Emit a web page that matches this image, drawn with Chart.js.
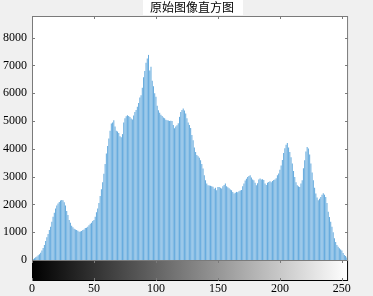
<!DOCTYPE html>
<html>
<head>
<meta charset="utf-8">
<script src="https://cdn.jsdelivr.net/npm/chart.js@4/dist/chart.umd.min.js"></script>
<style>
  html, body { margin: 0; padding: 0; background: #f0f0f0; }
  canvas { display: block; }
</style>
</head>
<body>
<canvas id="hist" width="373" height="296"></canvas>
<script>
// gray levels 0..255 and the pixel count of each level
const levels = Array.from({ length: 256 }, (_, i) => i);
const counts = [
  30, 40, 60, 95, 130, 170, 210, 260, 340, 430,
  540, 680, 820, 940, 1080, 1200, 1380, 1560, 1700, 1850,
  1960, 2030, 2090, 2140, 2160, 2150, 2080, 1960, 1760, 1620,
  1440, 1340, 1230, 1180, 1120, 1100, 1080, 1050, 1020, 1030,
  1040, 1080, 1100, 1150, 1160, 1200, 1250, 1300, 1340, 1400,
  1440, 1560, 1720, 1850, 2050, 2300, 2550, 2800, 3100, 3450,
  3830, 4100, 4370, 4650, 4910, 4950, 5030, 4800, 4650, 4620,
  4570, 4450, 4420, 4530, 4950, 5100, 5170, 5210, 5180, 5150,
  5090, 5060, 5200, 5330, 5400, 5510, 5650, 5850, 5930, 6200,
  6580, 6800, 7100, 7250, 7380, 6820, 6950, 6450, 6250, 6000,
  5870, 5550, 5390, 5300, 5230, 5180, 5130, 5100, 5050, 5030,
  5020, 5000, 5010, 5000, 4860, 4740, 4800, 4850, 4920, 5150,
  5330, 5400, 5450, 5380, 5270, 5100, 4950, 4860, 4750, 4500,
  4310, 4050, 3890, 3780, 3730, 3680, 3590, 3450, 3290, 3050,
  2870, 2750, 2690, 2680, 2670, 2650, 2640, 2560, 2600, 2510,
  2630, 2630, 2600, 2570, 2650, 2700, 2750, 2650, 2620, 2580,
  2540, 2510, 2450, 2390, 2420, 2450, 2440, 2470, 2500, 2520,
  2650, 2750, 2860, 2920, 2990, 3020, 3050, 2970, 2900, 2870,
  2780, 2690, 2760, 2900, 2930, 2900, 2910, 2880, 2750, 2700,
  2780, 2810, 2830, 2800, 2840, 2880, 2900, 2940, 3050, 3110,
  3250, 3400, 3600, 3850, 4020, 4150, 4210, 4050, 3890, 3700,
  3470, 3200, 2990, 2800, 2690, 2650, 2630, 2750, 2870, 3300,
  3590, 3900, 4070, 4010, 3800, 3470, 3150, 2870, 2600, 2390,
  2250, 2150, 2200, 2270, 2350, 2400, 2350, 2270, 2050, 1740,
  1550, 1380, 1200, 1000, 780, 650, 540, 480, 420, 380,
  340, 250, 180, 140, 90, 600
];
const xTicks = [0, 50, 100, 150, 200, 250];
const yTicks = [0, 1000, 2000, 3000, 4000, 5000, 6000, 7000, 8000];
const titleText = "原始图像直方图";

const frameColor = "#7a7a7a";
const tickFont = { family: "Liberation Serif, Times New Roman, serif", size: 12 };

// axes box, inward ticks, gray colorbar and the title box
const decor = {
  id: "decor",
  afterDraw(chart) {
    const { ctx, chartArea: a, scales } = chart;
    const x = scales.x, y = scales.y;
    ctx.save();

    // colorbar under the axes
    const cbTop = a.bottom, cbBot = a.bottom + 21;
    const grad = ctx.createLinearGradient(a.left, 0, a.right, 0);
    grad.addColorStop(0, "#000");
    grad.addColorStop(1, "#fff");
    ctx.fillStyle = grad;
    ctx.fillRect(a.left, cbTop, a.right - a.left, cbBot - cbTop);
    ctx.strokeStyle = "#000";
    ctx.lineWidth = 1;
    ctx.strokeRect(a.left + 0.5, cbTop + 0.5, a.right - a.left - 1, cbBot - cbTop - 1);

    // axes frame
    ctx.strokeStyle = frameColor;
    ctx.strokeRect(a.left + 0.5, a.top + 0.5, a.right - a.left - 1, a.bottom - a.top);

    // tick marks pointing inward
    ctx.beginPath();
    yTicks.forEach(v => {
      const py = Math.round(y.getPixelForValue(v)) + 0.5;
      ctx.moveTo(a.left, py); ctx.lineTo(a.left + 3, py);
      ctx.moveTo(a.right, py); ctx.lineTo(a.right - 3, py);
    });
    xTicks.forEach(v => {
      const px = Math.round(x.getPixelForValue(v)) + 0.5;
      ctx.moveTo(px, a.top); ctx.lineTo(px, a.top + 3);
      ctx.moveTo(px, cbTop); ctx.lineTo(px, cbTop + 3);
      ctx.moveTo(px, cbBot); ctx.lineTo(px, cbBot - 3);
    });
    ctx.stroke();

    // title on a white box
    const cx = (a.left + a.right) / 2;
    ctx.fillStyle = "#fff";
    ctx.fillRect(cx - 47, 0, 100, 15);
    ctx.fillStyle = "#000";
    ctx.font = "12px 'Noto Sans CJK SC'";
    ctx.textAlign = "center";
    ctx.textBaseline = "middle";
    ctx.fillText(titleText, cx + 2, 7.5);
    ctx.restore();
  }
};

// white plotting area
const plotBg = {
  id: "plotBg",
  beforeDraw(chart) {
    const { ctx, chartArea: a } = chart;
    ctx.save();
    ctx.fillStyle = "#fff";
    ctx.fillRect(a.left, a.top, a.right - a.left, a.bottom - a.top);
    ctx.restore();
  }
};

new Chart(document.getElementById("hist"), {
  type: "bar",
  data: {
    datasets: [{
      data: levels.map((v, i) => ({ x: v, y: counts[i] })),
      backgroundColor: "rgb(104,172,222)",
      borderWidth: 0,
      barPercentage: 1,
      categoryPercentage: 0.84
    }]
  },
  options: {
    responsive: false,
    devicePixelRatio: 1,
    animation: false,
    layout: { padding: { top: 16, right: 7, left: 0, bottom: 0 } },
    plugins: { legend: { display: false }, tooltip: { enabled: false } },
    scales: {
      x: {
        type: "linear",
        min: 0,
        max: 255,
        offset: false,
        grid: { display: false, drawTicks: false },
        border: { display: false },
        afterBuildTicks: s => { s.ticks = xTicks.map(v => ({ value: v })); },
        afterFit: s => { s.height = 36; },
        ticks: {
          padding: 22,
          maxRotation: 0,
          color: "#000",
          font: tickFont,
          callback: v => String(v)
        }
      },
      y: {
        min: 0,
        max: 8780,
        grid: { display: false, drawTicks: false },
        border: { display: false },
        afterBuildTicks: s => { s.ticks = yTicks.map(v => ({ value: v })); },
        afterFit: s => { s.width = 32; },
        ticks: {
          padding: 5,
          color: "#000",
          font: tickFont,
          callback: v => String(v)
        }
      }
    }
  },
  plugins: [plotBg, decor]
});
</script>
</body>
</html>
